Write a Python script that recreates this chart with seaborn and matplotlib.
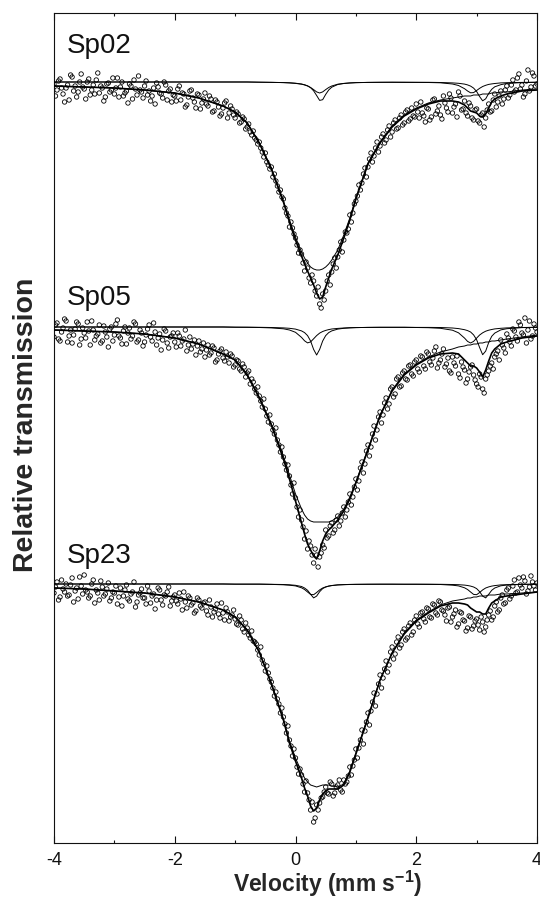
import numpy as np
import matplotlib
matplotlib.use("Agg")
import matplotlib.pyplot as plt
import seaborn as sns

sns.set_style("white")
plt.rcParams['font.family'] = ['Liberation Sans', 'DejaVu Sans']
plt.rcParams['axes.unicode_minus'] = False
plt.rcParams['mathtext.fontset'] = 'custom'
plt.rcParams['mathtext.rm'] = 'Liberation Sans'
plt.rcParams['mathtext.bf'] = 'Liberation Sans:bold'

fit_v = [-4.0, -3.5, -3.0, -2.5, -2.0, -1.6, -1.2, -1.0, -0.8, -0.6,
         -0.4, -0.2, -0.1, 0.0, 0.1, 0.15, 0.2, 0.25, 0.3, 0.35,
         0.4, 0.45, 0.5, 0.55, 0.6, 0.7, 0.8, 0.9, 1.0, 1.2,
         1.4, 1.6, 1.8, 2.0, 2.2, 2.4, 2.6, 2.7, 2.8, 2.85,
         2.9, 2.95, 3.0, 3.05, 3.1, 3.15, 3.2, 3.25, 3.3, 3.4,
         3.5, 3.75, 4.0]

# all curves / points are absorption in per mille, (1 - transmission) * 1000
sp02_total = [4, 5, 6, 8, 11, 16, 24, 30, 41, 61,
              87, 120, 140, 158, 174, 182, 189, 196, 203, 211,
              217, 215, 205, 196, 187, 173, 156, 138, 117, 82,
              61, 45, 34, 27, 22, 19, 19, 20, 23, 26,
              29, 30, 31, 34, 35, 32, 26, 20, 17, 14,
              12, 9, 8]
sp02_broad = [4, 5, 6, 8, 11, 16, 24, 30, 41, 61,
              86, 119, 138, 155, 170, 176, 181, 185, 187, 188,
              188, 187, 185, 182, 178, 168, 153, 136, 116, 81,
              60, 44, 33, 26, 21, 18, 16, 15, 14, 14,
              14, 13, 13, 13, 12, 12, 12, 11, 11, 10,
              10, 8, 7]
sp02_db1 = [0, 0, 0, 0, 0, 0, 0, 0, 0, 0.2,
            0.4, 0.6, 0.9, 1.4, 2.2, 2.9, 4.0, 5.5, 7.6, 9.9,
            11, 9.9, 7.6, 5.5, 4.0, 2.2, 1.4, 0.9, 0.6, 0.4,
            0.3, 0.3, 0.4, 0.4, 0.5, 0.8, 2.0, 3.5, 6.7, 9.0,
            10.8, 10.6, 8.5, 6.3, 4.5, 3.3, 2.4, 1.9, 1.5, 0.9,
            0.7, 0.4, 0.2]
sp02_db2 = [0, 0, 0, 0, 0, 0, 0, 0, 0, 0.2,
            0.3, 0.6, 0.8, 1.2, 2.0, 2.8, 3.8, 5.7, 8.8, 13.5,
            18.4, 17.7, 12.4, 8.0, 5.2, 2.5, 1.5, 1.0, 0.7, 0.4,
            0.3, 0.2, 0.2, 0.3, 0.3, 0.5, 0.9, 1.3, 2.1, 2.9,
            4.1, 6.1, 9.5, 14.6, 18.8, 16.8, 11.4, 7.3, 4.8, 2.7,
            1.4, 0.6, 0.3]

sp05_total = [3, 4, 5, 7, 11, 17, 27, 33, 48, 71,
              98, 132, 152, 174, 196, 207, 217, 223, 229, 232,
              224, 214, 207, 203, 200, 193, 184, 172, 156, 123,
              89, 64, 48, 38, 31, 27, 26, 27, 33, 36,
              39, 39, 41, 45, 50, 43, 34, 26, 22, 17,
              15, 11, 9]
sp05_broad = [3, 4, 5, 7, 11, 17, 27, 33, 47, 70,
              97, 129, 148, 167, 182, 188, 192, 194, 195, 195,
              195, 195, 195, 195, 194, 190, 182, 170, 155, 122,
              88, 63, 47, 37, 30, 25, 22, 20, 19, 18,
              18, 17, 17, 16, 16, 15, 15, 14, 14, 13,
              12, 10, 8]
sp05_db1 = [0, 0, 0, 0, 0, 0, 0, 0.2, 0.3, 0.5,
            0.9, 1.8, 3.0, 5.3, 10.4, 13.8, 15.9, 14.9, 11.8, 8.6,
            6.1, 4.5, 3.4, 2.6, 2.0, 1.4, 1.0, 0.7, 0.6, 0.4,
            0.3, 0.3, 0.3, 0.5, 0.7, 1.3, 3.2, 5.8, 11.1, 14.4,
            16, 14.4, 11.1, 8.0, 5.8, 4.2, 3.2, 2.5, 1.9, 1.3,
            0.9, 0.5, 0.3]
sp05_db2 = [0, 0, 0, 0, 0, 0, 0, 0.2, 0.2, 0.3,
            0.5, 0.9, 1.3, 2.1, 3.9, 5.6, 8.6, 14.0, 22.4, 28,
            22.4, 14.0, 8.6, 5.6, 3.9, 2.1, 1.3, 0.9, 0.6, 0.4,
            0.3, 0.3, 0.3, 0.4, 0.4, 0.5, 1.0, 1.6, 2.7, 3.6,
            5.0, 7.9, 12.7, 20.6, 27.7, 24.1, 15.5, 9.3, 6.1, 2.9,
            1.7, 0.6, 0.3]

sp23_total = [4, 5, 7, 9, 13, 18, 26, 33, 46, 68,
              100, 136, 159, 177, 194, 204, 212, 222, 227, 224,
              216, 210, 207, 205, 205, 205, 201, 188, 170, 134,
              96, 69, 50, 37, 29, 22, 19, 19, 20, 21,
              24, 26, 28, 28, 30, 30, 24, 19, 17, 13,
              12, 10, 8]
sp23_broad = [4, 5, 7, 9, 13, 18, 26, 33, 46, 68,
              99, 135, 157, 174, 188, 194, 198, 201, 202, 203,
              202, 201, 201, 201, 202, 203, 200, 187, 169, 133,
              96, 69, 49, 36, 28, 21, 17, 16, 15, 14,
              14, 13, 13, 12, 12, 12, 11, 11, 11, 10,
              10, 9, 8]
sp23_db1 = [0, 0, 0, 0, 0, 0, 0, 0.2, 0.2, 0.2,
            0.4, 0.8, 1.2, 1.9, 3.8, 5.5, 8.0, 10.4, 10.7, 8.5,
            5.9, 4.0, 2.9, 2.1, 1.6, 0.9, 0.7, 0.5, 0.4, 0.3,
            0.2, 0.2, 0.3, 0.3, 0.4, 0.5, 1.2, 1.9, 3.8, 5.5,
            8.0, 10.4, 10.7, 8.5, 5.9, 4.0, 2.9, 2.1, 1.6, 0.9,
            0.7, 0.3, 0.2]
sp23_db2 = [0, 0, 0, 0, 0, 0, 0, 0.1, 0.1, 0.1,
            0.3, 0.5, 0.8, 1.3, 2.5, 4.0, 6.3, 10.3, 13.9, 12.1,
            7.7, 4.6, 3.0, 2.1, 1.5, 0.9, 0.6, 0.4, 0.3, 0.2,
            0.2, 0.2, 0.2, 0.2, 0.2, 0.3, 0.5, 0.7, 1.1, 1.5,
            2.1, 3.0, 4.6, 7.7, 12.1, 13.9, 10.3, 6.3, 4.0, 1.8,
            1.0, 0.4, 0.2]

# measured points, channels every 0.05 mm/s from -4 to 4 ...
sp02_data = [2, 8, -3, 12, 6, 18, -5, 4, 10, -8,
             7, 0, 13, 3, -2, 11, 6, 15, 1, 8,
             12, -4, 5, 14, 9, 2, 17, 7, -6, 10,
             4, 13, 19, 6, 1, 11, 16, 3, 9, 20,
             14, 7, 18, 12, 23, 9, 16, 26, 13, 21,
             11, 24, 17, 29, 20, 34, 26, 19, 31, 27,
             36, 32, 40, 37, 45, 50, 49, 58, 60, 70,
             71, 83, 85, 92, 104, 108, 117, 131, 145, 146,
             156, 171, 172, 189, 186, 201, 199, 214, 222, 212,
             209, 193, 190, 176, 175, 160, 158, 151, 133, 131,
             119, 103, 101, 86, 85, 71, 74, 60, 64, 52,
             58, 44, 50, 38, 46, 33, 41, 28, 37, 34,
             22, 36, 31, 40, 27, 35, 17, 29, 33, 14,
             26, 12, 31, 22, 10, 28, 19, 34, 24, 38,
             27, 41, 31, 36, 22, 29, 12, 20, 9, 17,
             4, 13, -2, 8, -8, 3, 12, -12, 5, -6,
             2]
sp05_data = [10, -4, 14, 1, -6, 9, 16, 2, -3, 12,
             6, -5, 18, 3, 9, -2, 14, 5, 20, 0,
             8, -7, 11, 4, 17, 1, 9, -3, 13, 6,
             15, 2, 10, -4, 18, 7, 13, 4, 21, 9,
             15, 6, 19, 12, 24, 10, 17, 28, 14, 22,
             30, 18, 26, 21, 33, 24, 31, 25, 36, 29,
             38, 34, 44, 40, 46, 57, 55, 66, 69, 80,
             82, 95, 97, 107, 113, 125, 130, 143, 149, 167,
             171, 190, 193, 212, 222, 219, 236, 228, 230, 218,
             203, 209, 196, 203, 189, 194, 180, 183, 167, 170,
             152, 154, 135, 137, 118, 120, 99, 103, 85, 88,
             71, 77, 60, 67, 50, 59, 44, 53, 38, 49,
             33, 45, 30, 42, 27, 38, 24, 41, 33, 22,
             37, 44, 30, 39, 47, 35, 43, 52, 40, 48,
             57, 47, 62, 52, 44, 36, 30, 24, 13, 21,
             7, 15, 2, 10, -5, 6, -9, 3, 12, -3,
             5]
sp23_data = [9, -2, 13, 5, 0, 11, -6, 7, 15, 2,
             -9, 8, 12, -4, 6, 16, 3, 10, -1, 14,
             9, 20, 4, 12, 1, 17, 8, 23, 11, 5,
             14, 2, 19, 10, 16, 6, 21, 12, 3, 17,
             11, 20, 15, 8, 24, 14, 19, 27, 16, 24,
             18, 31, 23, 28, 20, 34, 29, 24, 37, 31,
             35, 41, 36, 48, 44, 54, 57, 60, 71, 76,
             87, 89, 98, 112, 115, 129, 133, 149, 156, 172,
             174, 190, 191, 208, 209, 226, 238, 221, 219, 213,
             203, 210, 200, 209, 201, 206, 196, 198, 183, 182,
             165, 164, 146, 147, 129, 127, 109, 110, 91, 94,
             77, 81, 63, 70, 53, 61, 45, 54, 39, 48,
             32, 43, 28, 38, 25, 34, 21, 31, 18, 27,
             37, 23, 33, 26, 40, 29, 37, 44, 33, 42,
             35, 46, 38, 43, 31, 36, 22, 28, 14, 20,
             6, 15, 2, 9, -6, 4, -3, 7, -8, 2,
             -1]

# ... and the channels in between, from -3.975 to 3.975
sp02_mid = [14, -1, 6, 20, 3, -7, 9, 15, 0, 5,
            17, -3, 8, 12, -9, 4, 19, 2, 10, -4,
            6, 15, 0, 11, 21, 4, -2, 13, 8, 16,
            -1, 9, 14, 22, 5, 12, 0, 18, 7, 13,
            19, 4, 11, 25, 15, 8, 20, 12, 27, 17,
            22, 14, 30, 18, 25, 32, 21, 36, 24, 33,
            30, 41, 35, 47, 42, 53, 56, 62, 66, 75,
            80, 87, 95, 99, 110, 115, 126, 134, 140, 152,
            163, 168, 181, 180, 196, 193, 209, 205, 226, 218,
            199, 203, 182, 186, 168, 170, 150, 147, 140, 122,
            114, 108, 92, 95, 77, 80, 66, 70, 55, 61,
            48, 55, 41, 47, 36, 43, 30, 39, 26, 35,
            30, 20, 34, 26, 38, 18, 32, 24, 37, 21,
            30, 16, 25, 35, 14, 27, 31, 21, 36, 28,
            39, 33, 45, 28, 30, 18, 25, 14, 22, 8,
            16, 3, 10, -4, 7, 15, -1, 9, -9, 4]
sp05_mid = [-2, 12, 5, -8, 15, 3, 8, -5, 18, 1,
            11, 4, -6, 13, 7, 16, -1, 10, 2, 14,
            -3, 9, 17, 0, 6, 12, -5, 15, 3, 19,
            8, -2, 14, 5, 11, 23, 2, 16, 10, 6,
            20, 9, 14, 3, 18, 22, 13, 19, 25, 16,
            23, 28, 19, 35, 27, 22, 34, 30, 27, 40,
            33, 42, 37, 50, 44, 52, 62, 60, 74, 72,
            89, 88, 103, 101, 118, 120, 137, 138, 158, 156,
            180, 183, 200, 204, 214, 228, 222, 240, 226, 221,
            211, 199, 206, 193, 199, 186, 190, 175, 178, 160,
            163, 141, 146, 124, 129, 107, 113, 90, 96, 76,
            82, 62, 70, 52, 60, 46, 52, 39, 47, 35,
            42, 29, 39, 25, 35, 31, 20, 36, 27, 40,
            31, 46, 36, 29, 51, 40, 56, 45, 38, 53,
            60, 50, 66, 48, 39, 42, 27, 33, 18, 26,
            11, 19, 4, 14, -2, 8, 16, -6, 9, 1]
sp23_mid = [3, 16, -4, 8, 12, 1, 18, 4, -7, 10,
            6, 14, 0, 19, 9, -3, 12, 5, 17, 8,
            2, 13, 22, 6, 15, 10, -2, 18, 9, 14,
            20, 7, 12, 25, 4, 16, 11, 8, 22, 13,
            17, 9, 26, 18, 12, 21, 29, 14, 22, 19,
            27, 16, 33, 25, 30, 19, 36, 28, 33, 26,
            40, 32, 45, 39, 51, 47, 58, 66, 63, 80,
            82, 95, 104, 108, 120, 124, 140, 142, 162, 165,
            183, 185, 200, 197, 216, 218, 234, 226, 214, 208,
            209, 198, 212, 203, 196, 208, 200, 192, 191, 176,
            174, 156, 160, 138, 141, 118, 122, 100, 104, 85,
            88, 68, 75, 58, 64, 48, 56, 42, 51, 36,
            40, 29, 35, 24, 33, 20, 29, 17, 26, 31,
            24, 38, 30, 43, 28, 36, 47, 32, 45, 37,
            41, 33, 48, 36, 27, 33, 18, 26, 11, 19,
            4, 12, -4, 8, 1, -7, 10, 3, -2, 6]

names = ["Sp02", "Sp05", "Sp23"]
offsets = [0.502, 0.257, 0.0]
label_y = [1.531, 1.279, 1.021]

spectra = [
    (sp02_data, sp02_mid, sp02_total, sp02_broad, sp02_db1, sp02_db2),
    (sp05_data, sp05_mid, sp05_total, sp05_broad, sp05_db1, sp05_db2),
    (sp23_data, sp23_mid, sp23_total, sp23_broad, sp23_db1, sp23_db2),
]

chan_v = np.round(np.arange(161) * 0.05 - 4.0, 3)
chan_mid = np.round(np.arange(160) * 0.05 - 3.975, 3)


def trans(absorb, off):
    return off + 1.0 - np.asarray(absorb, dtype=float) / 1000.0


fig = plt.figure(figsize=(5.4, 8.99), dpi=100)
ax = fig.add_axes([54 / 540, (899 - 843.3) / 899, 483 / 540, 830 / 899])

for name, off, ly, (data, mid, total, broad, db1, db2) in zip(names, offsets, label_y, spectra):
    x_pts = np.concatenate([chan_v, chan_mid])
    y_pts = np.concatenate([trans(data, off), trans(mid, off)])
    sns.scatterplot(x=x_pts, y=y_pts, ax=ax, marker='o', s=10,
                    facecolors='none', edgecolor='black', linewidth=0.6, zorder=2)
    for comp in (broad, db1, db2):
        sns.lineplot(x=fit_v, y=trans(comp, off), ax=ax, color='black',
                     linewidth=0.7, errorbar=None, zorder=3)
    sns.lineplot(x=fit_v, y=trans(total, off), ax=ax, color='black',
                 linewidth=1.2, errorbar=None, zorder=4)
    ax.text(-3.79, ly, name, fontsize=20, color='#111111', va='baseline', ha='left')

ax.set_xlim(-4, 4)
ax.set_ylim(0.7407, 1.5707)
ax.set_xticks([-4, -2, 0, 2, 4])
ax.set_xticks([-3, -1, 1, 3], minor=True)
ax.set_yticks([])
ax.tick_params(axis='x', which='both', direction='in', top=True, bottom=True,
               width=0.8, labelsize=13, pad=6, colors='#111111')
ax.tick_params(axis='x', which='major', length=4.8)
ax.tick_params(axis='x', which='minor', length=2.4)
for sp in ax.spines.values():
    sp.set_visible(True)
    sp.set_color('#111111')
    sp.set_linewidth(0.8)
ax.set_xlabel('')
ax.set_ylabel('')

fig.text(327.5 / 540, 1 - 892 / 899, r'Velocity (mm s$^{\mathbf{-1}}$)',
         fontsize=16.5, fontweight='bold', ha='center', va='baseline')
fig.text(13 / 540, 1 - 425 / 899, 'Relative transmission', fontsize=20.5,
         fontweight='bold', rotation=90, ha='left', va='center')

fig.savefig('out.png', dpi=100)
